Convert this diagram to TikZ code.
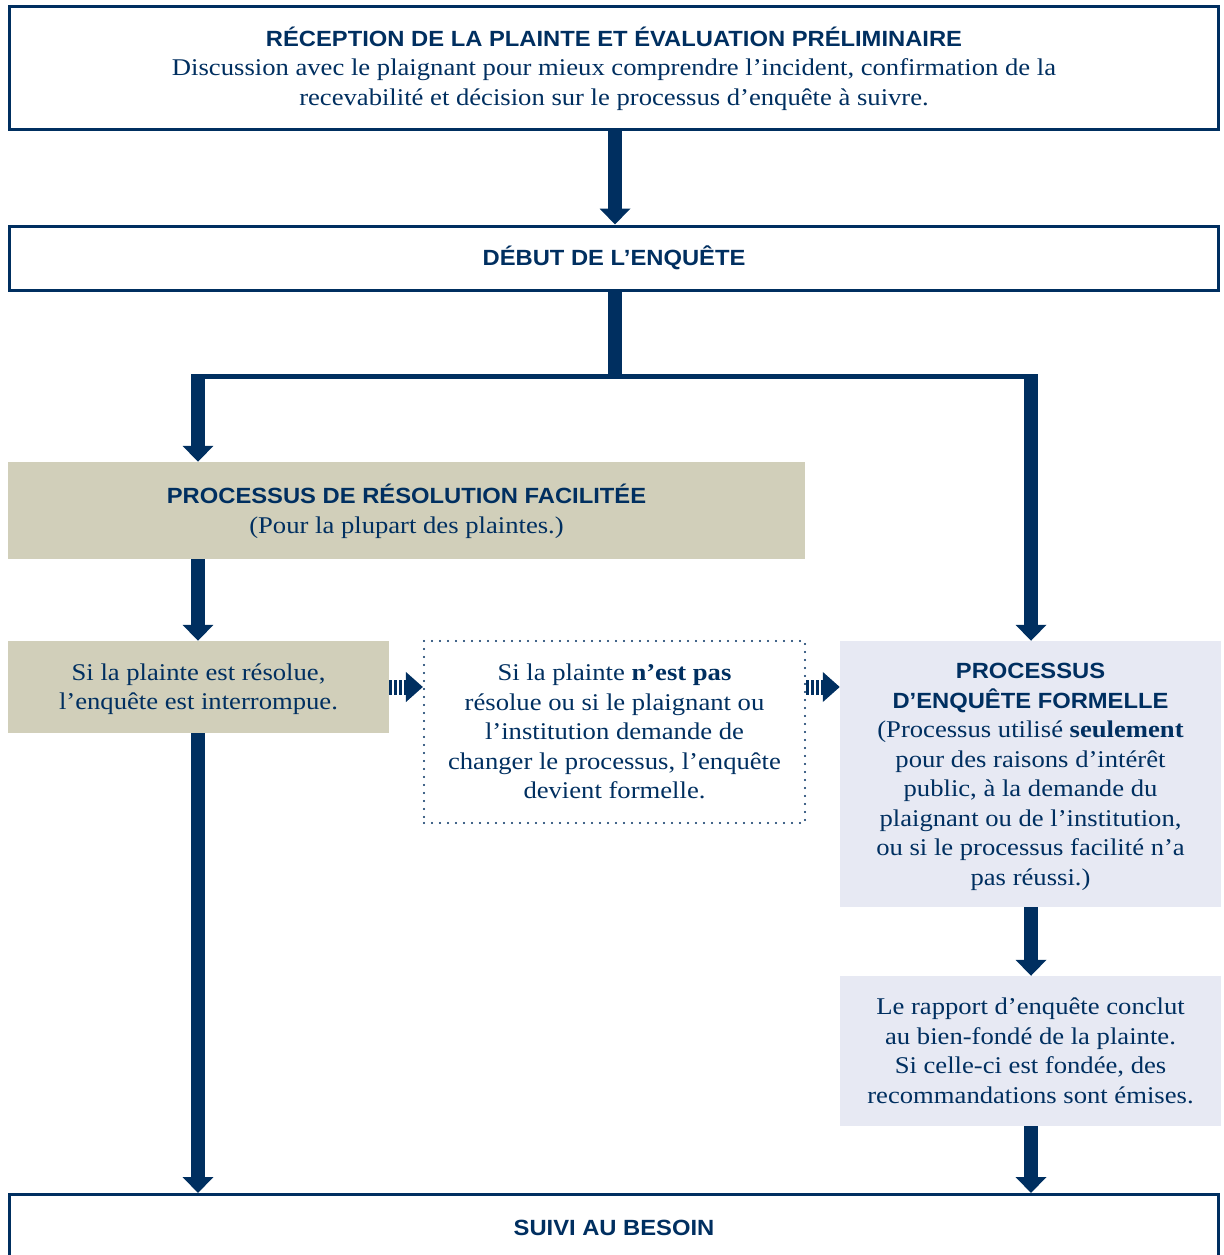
\documentclass[tikz,border=0pt]{standalone}
\usepackage{fontspec}
\setmainfont{Liberation Serif}[FakeStretch=1.11]
\newfontfamily\hd{Liberation Sans}[FakeStretch=1.08]
\usetikzlibrary{arrows.meta}
\definecolor{navy}{RGB}{0,47,96}
\definecolor{tan}{RGB}{209,207,186}
\definecolor{lblue}{RGB}{231,233,243}
\newcommand{\fs}{\rule{0pt}{23.5pt}}
\newcommand{\fe}{\rule[-8pt]{0pt}{8pt}}
\tikzset{
  x=1pt,y=-1pt,
  every node/.style={text=navy,align=center,inner sep=0pt,font=\fontsize{24}{29.5}\selectfont},
  outlinebox/.style={draw=navy,line width=3pt,fill=white},
  tanbox/.style={fill=tan},
  bluebox/.style={fill=lblue},
  dotbox/.style={draw=navy,line width=2.2pt,line cap=round,dash pattern=on 0pt off 8pt},
  bigarrow/.style={draw=navy,line width=14pt,-{Triangle[width=30pt,length=16pt]}},
  stripearrow/.style={draw=navy,line width=15pt,dash pattern=on 3pt off 2pt,-{Triangle[width=29pt,length=17pt]}},
  hline/.style={draw=navy,line width=5pt},
}
\newcommand{\hdt}[1]{{\hd\bfseries\fontsize{22}{29.5}\selectfont #1}}
\begin{document}
\begin{tikzpicture}
\useasboundingbox (0,0) rectangle (1223,1255);
\begin{scope}
\clip (0,0) rectangle (1223,1255);
% boxes
\node[outlinebox,minimum width=1209pt,minimum height=123pt] (rec) at (614,68)
  {\fs\hdt{RÉCEPTION DE LA PLAINTE ET ÉVALUATION PRÉLIMINAIRE}\\
   Discussion avec le plaignant pour mieux comprendre l’incident, confirmation de la\\
   recevabilité et décision sur le processus d’enquête à suivre.\fe};
\node[outlinebox,minimum width=1209pt,minimum height=64pt] (deb) at (614,258)
  {\fs\hdt{DÉBUT DE L’ENQUÊTE}\fe};
\node[tanbox,minimum width=797pt,minimum height=97pt] (fac) at (406.5,510.5)
  {\fs\hdt{PROCESSUS DE RÉSOLUTION FACILITÉE}\\(Pour la plupart des plaintes.)\fe};
\node[tanbox,minimum width=381pt,minimum height=92pt] (res) at (198.5,687)
  {\fs Si la plainte est résolue,\\l’enquête est interrompue.\fe};
\node[dotbox,minimum width=381pt,minimum height=182pt] (nres) at (614.5,732)
  {\fs Si la plainte \textbf{n’est pas}\\résolue ou si le plaignant ou\\l’institution demande de\\changer le processus, l’enquête\\devient formelle.\fe};
\node[bluebox,minimum width=381pt,minimum height=266pt] (form) at (1030.5,774)
  {\fs\hdt{PROCESSUS}\\\hdt{D’ENQUÊTE FORMELLE}\\(Processus utilisé \textbf{seulement}\\pour des raisons d’intérêt\\public, à la demande du\\plaignant ou de l’institution,\\ou si le processus facilité n’a\\pas réussi.)\fe};
\node[bluebox,minimum width=381pt,minimum height=150pt] (rap) at (1030.5,1051)
  {\fs Le rapport d’enquête conclut\\au bien-fondé de la plainte.\\Si celle-ci est fondée, des\\recommandations sont émises.\fe};
\node[outlinebox,minimum width=1209pt,minimum height=66pt] (suivi) at (614,1227.5)
  {\fs\hdt{SUIVI AU BESOIN}\fe};
% connectors
\coordinate (j) at (615,376);
\coordinate (lc) at (198,376);
\coordinate (rc) at (1031,376);
\draw[bigarrow] (rec.south -| j) -- (deb.north -| j);
\draw[navy,line width=14pt] (deb.south -| j) -- (j);
\draw[hline] ([xshift=-7pt]lc) -- ([xshift=7pt]rc);
\draw[bigarrow] ([yshift=-2.5pt]lc) -- (fac.north -| lc);
\draw[bigarrow] ([yshift=-2.5pt]rc) -- (form.north -| rc);
\draw[bigarrow] (fac.south -| lc) -- (res.north -| lc);
\draw[bigarrow] (res.south -| lc) -- (suivi.north -| lc);
\draw[bigarrow] (form.south -| rc) -- (rap.north -| rc);
\draw[bigarrow] (rap.south -| rc) -- (suivi.north -| rc);
\draw[stripearrow] (res.east) -- (res.east -| nres.west);
\draw[stripearrow] (nres.east |- res.east) -- (form.west |- res.east);
\end{scope}
\end{tikzpicture}
\end{document}
